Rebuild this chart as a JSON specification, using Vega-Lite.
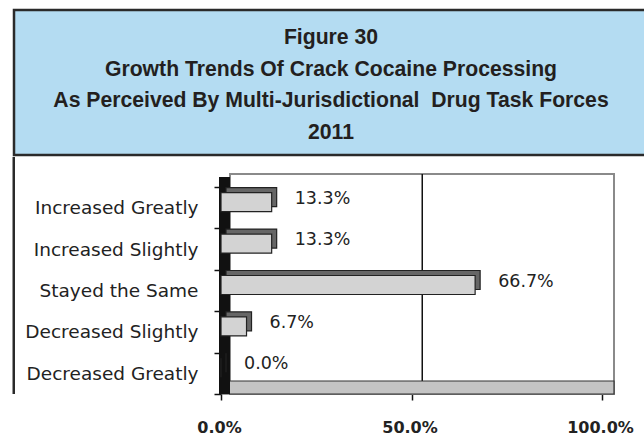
{
  "$schema": "https://vega.github.io/schema/vega-lite/v6.json",
  "padding": {"left": 12, "top": 8, "right": 0, "bottom": 0},
  "background": "white",
  "spacing": 0,
  "config": {
    "font": "DejaVu Sans",
    "view": {"stroke": null},
    "axisX": {"domain": false, "grid": false, "tickSize": 6, "tickColor": "#111", "tickWidth": 1.5, "labelPadding": 19, "labelFontSize": 16, "labelFontWeight": "bold", "labelColor": "#222", "labelFlush": false, "labelOffset": -2, "labelFont": "DejaVu Sans"},
    "axisY": {"domain": false, "grid": false, "tickBand": "extent", "tickSize": 7, "tickColor": "#111", "tickWidth": 1.5, "labelPadding": 16, "labelFontSize": 18.5, "labelColor": "#222", "labelFont": "DejaVu Sans", "minExtent": 200, "labelLimit": 300}
  },
  "vconcat": [
    {
      "width": 634,
      "height": 145,
      "view": {"fill": "#b4dcf2", "stroke": "#2a2a2a", "strokeWidth": 2.5},
      "data": {"values": [
        {"line": "Figure 30"},
        {"line": "Growth Trends Of Crack Cocaine Processing"},
        {"line": "As Perceived By Multi-Jurisdictional\u00a0 Drug Task Forces"},
        {"line": "2011"}
      ]},
      "mark": {"type": "text", "font": "Liberation Sans", "fontWeight": "bold", "fontSize": 21.2, "color": "#231f20", "yOffset": 3},
      "encoding": {
        "y": {"field": "line", "type": "nominal", "sort": null, "axis": null, "scale": {"padding": 0.8}},
        "text": {"field": "line"}
      }
    },
    {
      "spacing": -3,
      "hconcat": [
        {
          "width": 0.01,
          "height": 10,
          "data": {"values": []},
          "mark": "point"
        },
        {
          "width": 381,
          "height": 207,
          "layer": [
            {
              "data": {"values": [{"part": "frame"}]},
              "mark": {"type": "rect", "fill": "#2a2a2a", "xOffset": -208.5, "x2Offset": -206, "yOffset": -30, "y2Offset": 70},
              "encoding": {"x": {"datum": 0, "type": "quantitative", "title": null, "scale": {"domain": [0, 1], "nice": false}}, "x2": {"datum": 0}}
            },
            {
              "data": {"values": [{"part": "wall"}]},
              "mark": {"type": "rect", "fill": "white", "stroke": "#8a8a8a", "strokeWidth": 2, "xOffset": 9, "x2Offset": 12, "yOffset": -13, "y2Offset": -13},
              "encoding": {"x": {"datum": 0, "type": "quantitative", "title": null}, "x2": {"datum": 1}}
            },
            {
              "data": {"values": [{"part": "grid"}]},
              "mark": {"type": "rect", "fill": "#111", "xOffset": 10, "x2Offset": 11.5, "yOffset": -13, "y2Offset": -13},
              "encoding": {"x": {"datum": 0.5, "type": "quantitative", "title": null}, "x2": {"datum": 0.5}}
            },
            {
              "data": {"values": [{"part": "floor"}]},
              "mark": {"type": "rect", "fill": "#c4c4c4", "stroke": "#333", "strokeWidth": 1.2, "xOffset": 0, "x2Offset": 12, "yOffset": 194, "y2Offset": -2},
              "encoding": {"x": {"datum": 0, "type": "quantitative", "title": null}, "x2": {"datum": 1}}
            },
            {
              "data": {"values": [{"part": "side"}]},
              "mark": {"type": "rect", "fill": "#111", "xOffset": -2, "x2Offset": 9, "yOffset": -10, "y2Offset": -1},
              "encoding": {"x": {"datum": 0, "type": "quantitative", "title": null}, "x2": {"datum": 0}}
            },
            {
              "data": {"name": "bars"},
              "layer": [
                {
                  "mark": {"type": "bar", "size": 19, "fill": "#666666", "stroke": "#222", "strokeWidth": 1.2, "xOffset": 5, "x2Offset": 5, "yOffset": -10.5},
                  "encoding": {
                    "x": {"field": "pct", "type": "quantitative", "title": null, "axis": {"values": [0, 0.5, 1], "format": ".1%"}},
                    "y": {"field": "cat", "type": "nominal", "sort": null, "title": null, "scale": {"paddingInner": 0, "paddingOuter": 0}}
                  }
                },
                {
                  "mark": {"type": "bar", "size": 19, "fill": "#d3d3d3", "stroke": "#222", "strokeWidth": 1.2, "yOffset": -5.5},
                  "encoding": {
                    "x": {"field": "pct", "type": "quantitative", "title": null},
                    "y": {"field": "cat", "type": "nominal", "sort": null, "title": null}
                  }
                },
                {
                  "mark": {"type": "text", "align": "left", "dx": 23, "yOffset": -9, "fontSize": 17.5, "color": "#222"},
                  "encoding": {
                    "x": {"field": "pct", "type": "quantitative", "title": null},
                    "y": {"field": "cat", "type": "nominal", "sort": null, "title": null},
                    "text": {"field": "pct", "type": "quantitative", "format": ".1%"}
                  }
                }
              ]
            }
          ]
        }
      ]
    }
  ],
  "datasets": {
    "bars": [
      {"cat": "Increased Greatly", "pct": 0.133},
      {"cat": "Increased Slightly", "pct": 0.133},
      {"cat": "Stayed the Same", "pct": 0.667},
      {"cat": "Decreased Slightly", "pct": 0.067},
      {"cat": "Decreased Greatly", "pct": 0.0}
    ]
  }
}
